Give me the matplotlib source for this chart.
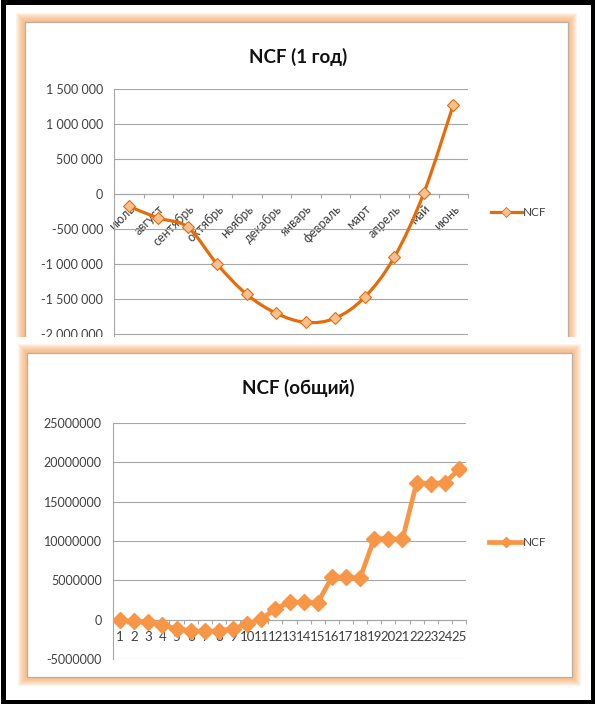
import matplotlib
matplotlib.use("Agg")
import matplotlib.pyplot as plt
from matplotlib.patches import Rectangle, PathPatch
from matplotlib.path import Path
from matplotlib.lines import Line2D
from matplotlib.ticker import FixedLocator, FuncFormatter, NullFormatter

plt.rcParams["font.family"] = ["Lato", "Open Sans", "DejaVu Sans"]

# ---- data -------------------------------------------------------------
months = ["июль", "август", "сентябрь", "октябрь", "ноябрь", "декабрь",
          "январь", "февраль", "март", "апрель", "май", "июнь"]
ncf_year1 = [-170000, -340000, -470000, -1000000, -1430000, -1700000,
             -1830000, -1770000, -1470000, -900000, 15000, 1276000]

periods = [str(i) for i in range(1, 26)]
ncf_total = [-100000, -200000, -250000, -700000, -1150000, -1400000,
             -1500000, -1400000, -1150000, -550000, 50000, 1400000,
             2200000, 2200000, 2150000, 5400000, 5400000, 5300000,
             10300000, 10300000, 10200000, 17400000, 17300000, 17400000,
             19100000]

year1_ticks = [-2000000, -1500000, -1000000, -500000, 0, 500000,
               1000000, 1500000]
total_ticks = [-5000000, 0, 5000000, 10000000, 15000000, 20000000,
               25000000]

# ---- styles -----------------------------------------------------------
W, H = 595, 704
DARK_ORANGE = "#E46C0A"
LIGHT_FILL = "#FAC090"
ORANGE = "#F79646"
GRID = "#A6A6A6"
TXT = "#404040"
GLOW = "#F7A860"

fig = plt.figure(figsize=(W / 100, H / 100), dpi=100)
fig.patch.set_facecolor("white")


def px_axes(x0, y0, x1, y1, z):
    return fig.add_axes([x0 / W, 1 - y1 / H, (x1 - x0) / W, (y1 - y0) / H],
                        zorder=z)


def overlay(z):
    ax = px_axes(0, 0, W, H, z)
    ax.set_xlim(0, W)
    ax.set_ylim(H, 0)
    ax.axis("off")
    ax.patch.set_visible(False)
    return ax


def glow_box(ax, x0, y0, x1, y1):
    for k in range(9, 0, -1):
        ax.add_patch(Rectangle((x0 - k, y0 - k), (x1 - x0) + 2 * k,
                               (y1 - y0) + 2 * k, facecolor=GLOW,
                               edgecolor="none", alpha=0.13))
    ax.add_patch(Rectangle((x0, y0), x1 - x0, y1 - y0, facecolor="white",
                           edgecolor="#BDAE9F", linewidth=0.9))


def smooth_path(xs, ys):
    pts = list(zip(xs, ys))
    n = len(pts)
    verts = [pts[0]]
    codes = [Path.MOVETO]
    for i in range(n - 1):
        p0 = pts[i - 1] if i > 0 else pts[i]
        p1 = pts[i]
        p2 = pts[i + 1]
        p3 = pts[i + 2] if i + 2 < n else pts[i + 1]
        c1 = (p1[0] + (p2[0] - p0[0]) / 6, p1[1] + (p2[1] - p0[1]) / 6)
        c2 = (p2[0] - (p3[0] - p1[0]) / 6, p2[1] - (p3[1] - p1[1]) / 6)
        verts += [c1, c2, p2]
        codes += [Path.CURVE4] * 3
    return Path(verts, codes)


def spaced(v, pos):
    s = f"{abs(int(round(v))):,}".replace(",", " ")
    return ("-" if v < 0 else "") + s


def style_axes(ax, ncat):
    ax.patch.set_visible(False)
    ax.set_xlim(-0.5, ncat - 0.5)
    for side in ("top", "right"):
        ax.spines[side].set_visible(False)
    ax.spines["left"].set_color(GRID)
    ax.spines["left"].set_linewidth(0.8)
    ax.spines["bottom"].set_position(("data", 0))
    ax.spines["bottom"].set_color(GRID)
    ax.spines["bottom"].set_linewidth(0.8)
    ax.grid(axis="y", color=GRID, linewidth=0.8)
    ax.set_axisbelow(True)
    ax.xaxis.set_major_locator(FixedLocator([i - 0.5 for i in range(ncat + 1)]))
    ax.xaxis.set_major_formatter(NullFormatter())
    ax.tick_params(axis="x", which="major", length=3, color=GRID, width=0.8,
                   direction="out")
    ax.tick_params(axis="y", length=0, labelsize=9, labelcolor=TXT, pad=8)


# ---- background frame and top chart box --------------------------------
bg = overlay(0)
glow_box(bg, 25, 22, 568, 345)
bg.text(298, 57, "NCF (1 год)", ha="center", va="center", fontsize=13.5,
        fontweight="bold", color="#111111")

# ---- top chart: NCF for the first year ---------------------------------
ax1 = px_axes(114, 89.3, 468, 337, 1)
style_axes(ax1, len(months))
ax1.set_ylim(-2039000, 1500000)
ax1.set_yticks(year1_ticks)
ax1.yaxis.set_major_formatter(FuncFormatter(spaced))
xs1 = list(range(len(months)))
ax1.add_patch(PathPatch(smooth_path(xs1, ncf_year1), facecolor="none",
                        edgecolor=DARK_ORANGE, linewidth=2.3,
                        capstyle="round", joinstyle="round", zorder=3))
ax1.plot(xs1, ncf_year1, linestyle="none", marker="D", markersize=6.5,
         markerfacecolor=LIGHT_FILL, markeredgecolor=DARK_ORANGE,
         markeredgewidth=0.8, zorder=4)
ax1.set_xticks(xs1, minor=True)
ax1.set_xticklabels(months, minor=True, rotation=45, ha="right", va="top",
                    rotation_mode="anchor", fontsize=9, color=TXT)
ax1.tick_params(axis="x", which="minor", length=0, pad=6)
ax1.legend(handles=[Line2D([], [], color=DARK_ORANGE, linewidth=2.3,
                           marker="D", markersize=5,
                           markerfacecolor=LIGHT_FILL,
                           markeredgecolor=DARK_ORANGE,
                           markeredgewidth=0.6)],
           labels=["NCF"], loc="center left",
           bbox_to_anchor=(491 / W, 1 - 213 / H),
           bbox_transform=fig.transFigure, frameon=False, fontsize=8.5,
           handlelength=2.6, handletextpad=0.1, borderpad=0,
           borderaxespad=0, labelcolor=TXT)

# ---- bottom chart box (covers the lower edge of the top chart) ----------
cover = overlay(2)
cover.add_patch(Rectangle((5, 336.5), 587, 360, facecolor="white",
                          edgecolor="none"))
glow_box(cover, 27, 353, 572, 677)
cover.text(298, 388, "NCF (общий)", ha="center", va="center",
           fontsize=13.5, fontweight="bold", color="#111111")

# ---- bottom chart: cumulative NCF --------------------------------------
ax2 = px_axes(113, 423, 466, 659, 3)
style_axes(ax2, len(periods))
ax2.set_ylim(-5000000, 25000000)
ax2.set_yticks(total_ticks)
ax2.yaxis.set_major_formatter(FuncFormatter(lambda v, p: f"{int(round(v))}"))
xs2 = list(range(len(periods)))
ax2.plot(xs2, ncf_total, color=ORANGE, linewidth=3.4, marker="D",
         markersize=8, markerfacecolor=ORANGE, markeredgecolor=ORANGE,
         solid_joinstyle="round", zorder=3)
ax2.set_xticks(xs2, minor=True)
ax2.set_xticklabels(periods, minor=True, fontsize=9.5, color=TXT)
ax2.tick_params(axis="x", which="minor", length=0, pad=8)
ax2.legend(handles=[Line2D([], [], color=ORANGE, linewidth=3.4, marker="D",
                           markersize=5, markerfacecolor=ORANGE,
                           markeredgecolor=ORANGE)],
           labels=["NCF"], loc="center left",
           bbox_to_anchor=(489 / W, 1 - 543 / H),
           bbox_transform=fig.transFigure, frameon=False, fontsize=8.5,
           handlelength=2.8, handletextpad=0.1, borderpad=0,
           borderaxespad=0, labelcolor=TXT)

# ---- outer black border -------------------------------------------------
border = overlay(4)
border.add_patch(Rectangle((2.5, 2), W - 4.5, H - 4, facecolor="none",
                           edgecolor="black", linewidth=3.6))

fig.savefig("out.png", dpi=100, facecolor="white")
